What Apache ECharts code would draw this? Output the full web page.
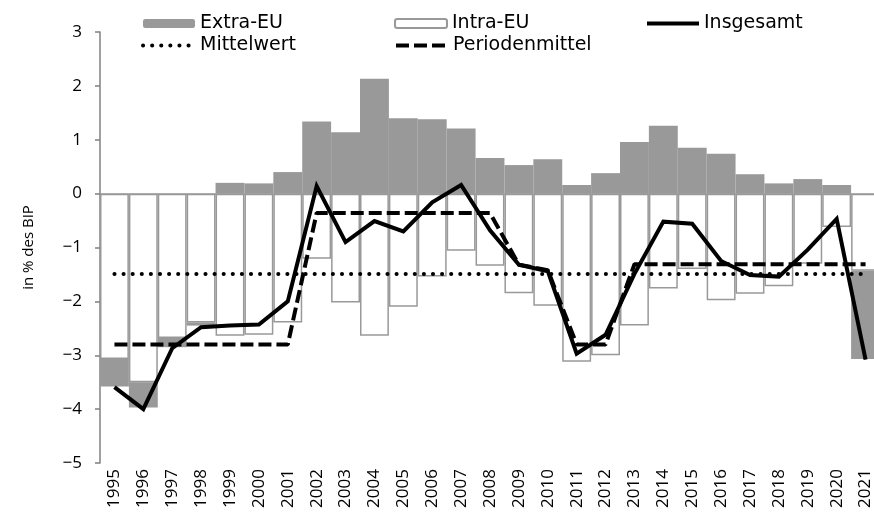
<!DOCTYPE html>
<html>
<head>
<meta charset="utf-8">
<script src="https://cdn.jsdelivr.net/npm/echarts@6/dist/echarts.min.js"></script>
<style>
html,body{margin:0;padding:0;background:#fff;}
#main{width:874px;height:519px;}
</style>
</head>
<body>
<div id="main"></div>
<script>
var years = ['1995','1996','1997','1998','1999','2000','2001','2002','2003','2004','2005','2006','2007','2008',
    '2009','2010','2011','2012','2013','2014','2015','2016','2017','2018','2019','2020','2021'];
var extraEU = [-0.51,-0.47,-0.17,-0.06,0.20,0.19,0.40,1.34,1.14,2.13,1.40,1.38,1.21,0.66,
    0.53,0.64,0.16,0.38,0.96,1.26,0.85,0.74,0.36,0.19,0.27,0.16,-1.64];
var intraEU = [-3.07,-3.50,-2.68,-2.39,-2.64,-2.62,-2.39,-1.21,-2.02,-2.64,-2.10,-1.54,-1.06,-1.34,
    -1.85,-2.08,-3.12,-3.00,-2.45,-1.76,-1.40,-1.98,-1.86,-1.72,-1.30,-0.62,-1.43];
var insgesamt = [-3.59,-4.00,-2.87,-2.48,-2.45,-2.43,-2.00,0.14,-0.90,-0.51,-0.70,-0.16,0.16,-0.68,
    -1.32,-1.44,-2.97,-2.62,-1.49,-0.52,-0.56,-1.25,-1.51,-1.54,-1.04,-0.47,-3.08];
var periodenmittel = [-2.80,-2.80,-2.80,-2.80,-2.80,-2.80,-2.80,-0.36,-0.36,-0.36,-0.36,-0.36,-0.36,-0.36,
    -1.32,-1.42,-2.80,-2.80,-1.31,-1.31,-1.31,-1.31,-1.31,-1.31,-1.31,-1.31,-1.31];
var mittelwert = -1.49;
var yTicks = [-5, 3, 1]; // min, max, interval

var mittelData = [];
for (var i = 0; i < years.length; i++) {
    mittelData.push(mittelwert);
}

var grey = '#999999';
var legendFont = {fontFamily: 'DejaVu Sans', fontSize: 19, color: '#000'};

// Linienstile, auch fuer die Legende
var dotStyle = {color: '#000', width: 4, type: [0.1, 9], cap: 'round'};
var dashStyle = {color: '#000', width: 4, type: [13, 5]};
var solidStyle = {color: '#000', width: 4, join: 'miter'};

function legendAt(name, left, top, lineStyle) {
    var item = {name: name};
    if (lineStyle) {
        item.itemStyle = {opacity: 0};
        item.lineStyle = lineStyle;
    }
    return {
        data: [item],
        left: left,
        top: top,
        padding: 0,
        itemWidth: 52,
        itemHeight: 9,
        textStyle: legendFont,
        selectedMode: false
    };
}

var myChart = echarts.init(document.getElementById('main'));

var option = {
    animation: false,
    backgroundColor: '#fff',
    legend: [
        legendAt('Extra-EU', 143, 14),
        legendAt('Intra-EU', 394, 14),
        legendAt('Insgesamt', 645, 14, solidStyle),
        legendAt('Mittelwert', 141, 36, dotStyle),
        legendAt('Periodenmittel', 394, 36, dashStyle)
    ],
    grid: {
        left: 100,
        top: 32,
        width: 780,
        height: 431,
        outerBoundsMode: 'none'
    },
    xAxis: [
        {
            type: 'category',
            data: years,
            position: 'bottom',
            axisLine: {show: false, onZero: false},
            axisTick: {show: false},
            axisLabel: {
                rotate: 90,
                margin: 6,
                interval: 0,
                fontFamily: 'Open Sans',
                fontSize: 17,
                color: '#000'
            }
        },
        {
            // Nulllinie
            type: 'category',
            data: years,
            position: 'bottom',
            axisLine: {show: true, onZero: true, lineStyle: {color: grey, width: 1.5}},
            axisTick: {show: false},
            axisLabel: {show: false}
        }
    ],
    yAxis: {
        type: 'value',
        min: yTicks[0],
        max: yTicks[1],
        interval: yTicks[2],
        name: 'in % des BIP',
        nameLocation: 'middle',
        nameGap: 64,
        nameTextStyle: {fontFamily: 'Open Sans', fontSize: 15, color: '#000'},
        axisLine: {show: true, lineStyle: {color: '#808080', width: 1.5}},
        axisTick: {show: true, inside: false, length: 5, lineStyle: {color: '#808080', width: 1.5}},
        splitLine: {show: false},
        axisLabel: {
            margin: 18,
            fontFamily: 'Open Sans',
            fontSize: 17,
            color: '#000',
            formatter: function (v) {
                return String(v).replace('-', '\u2212');
            }
        }
    },
    series: [
        {
            name: 'Intra-EU',
            type: 'bar',
            stack: 'saldo',
            data: intraEU,
            barWidth: '100%',
            itemStyle: {color: '#fff', borderColor: grey, borderWidth: 1.5}
        },
        {
            name: 'Extra-EU',
            type: 'bar',
            stack: 'saldo',
            data: extraEU,
            barWidth: '100%',
            itemStyle: {color: grey}
        },
        {
            name: 'Mittelwert',
            type: 'line',
            data: mittelData,
            symbol: 'none',
            z: 3,
            lineStyle: dotStyle
        },
        {
            name: 'Periodenmittel',
            type: 'line',
            data: periodenmittel,
            symbol: 'none',
            z: 4,
            lineStyle: dashStyle
        },
        {
            name: 'Insgesamt',
            type: 'line',
            data: insgesamt,
            symbol: 'none',
            z: 5,
            lineStyle: solidStyle
        }
    ]
};

myChart.setOption(option);
</script>
</body>
</html>
